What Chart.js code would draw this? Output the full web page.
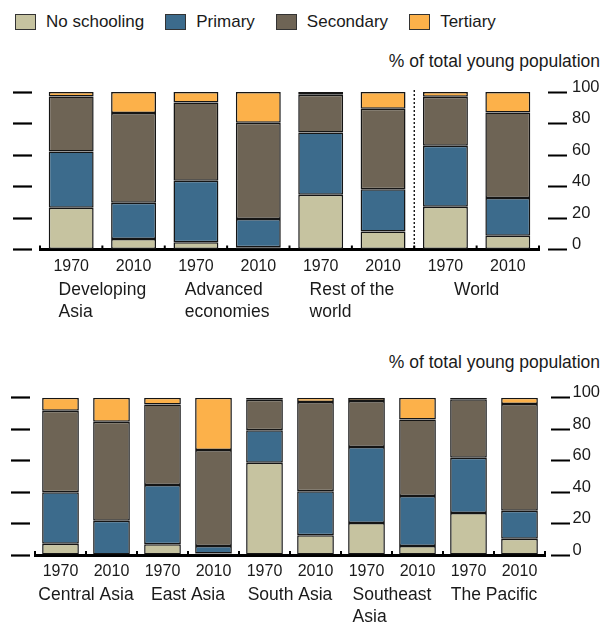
<!DOCTYPE html>
<html>
<head>
<meta charset="utf-8">
<script src="https://cdn.jsdelivr.net/npm/chart.js@4.4.1/dist/chart.umd.min.js"></script>
<style>
  body { margin: 0; width: 603px; height: 625px; background: #fff; position: relative; overflow: hidden;
         font-family: "Liberation Sans", Arial, sans-serif; color: #1a1a1a; }
  .legend { position: absolute; left: 15px; top: 12px; display: flex; align-items: center; font-size: 17px; }
  .legend .sw { width: 21px; height: 16px; border: 1.5px solid #333; box-sizing: border-box; margin-right: 10px; }
  .legend .txt { margin-right: 21px; }
  .unit { position: absolute; right: 3px; font-size: 17.5px; line-height: 20px; }
  .box { position: absolute; left: 0; width: 603px; }
</style>
</head>
<body>
<div class="legend" id="legend"></div>
<div class="unit" style="top:51px">% of total young population</div>
<div class="box" style="top:70px;height:260px"><canvas id="topChart"></canvas></div>
<div class="unit" style="top:352px">% of total young population</div>
<div class="box" style="top:372px;height:253px"><canvas id="bottomChart"></canvas></div>
<script>
// series names and colours
const seriesNames = ['No schooling', 'Primary', 'Secondary', 'Tertiary'];
const seriesColors = ['#C6C3A0', '#3C6B8C', '#6E6455', '#FCB14A'];

// upper panel
const topYears = ['1970', '2010', '1970', '2010', '1970', '2010', '1970', '2010'];
const topGroups = [['Developing', 'Asia'], ['Advanced', 'economies'], ['Rest of the', 'world'], ['World']];
const topNoSchool = [26.5, 6.6, 4.6, 1.5, 34.8, 11.5, 27.1, 8.7];
const topPrimary = [35.7, 23.1, 39.1, 17.8, 39.5, 26.7, 38.7, 24.0];
const topSecondary = [35.0, 56.9, 49.7, 61.1, 24.0, 51.2, 31.2, 54.3];
const topTertiary = [2.8, 13.4, 6.6, 19.6, 1.7, 10.6, 3.0, 13.0];

// lower panel
const bottomYears = ['1970', '2010', '1970', '2010', '1970', '2010', '1970', '2010', '1970', '2010'];
const bottomGroups = [['Central Asia'], ['East Asia'], ['South Asia'], ['Southeast', 'Asia'], ['The Pacific']];
const bottomNoSchool = [7.2, 0.3, 6.8, 1.0, 58.7, 12.5, 20.3, 5.7, 26.7, 10.4];
const bottomPrimary = [32.7, 21.5, 37.7, 4.7, 20.6, 28.0, 48.4, 31.8, 35.2, 17.8];
const bottomSecondary = [51.8, 62.9, 51.1, 61.1, 19.4, 56.8, 29.2, 48.7, 37.1, 67.8];
const bottomTertiary = [8.3, 15.3, 4.4, 33.2, 1.3, 2.7, 2.1, 13.8, 1.0, 4.0];

const yTicks = [0, 20, 40, 60, 80, 100];

// html legend
const legendEl = document.getElementById('legend');
seriesNames.forEach((name, i) => {
    legendEl.insertAdjacentHTML('beforeend',
        '<div class="sw" style="background:' + seriesColors[i] + '"></div><span class="txt">' + name + '</span>');
});

// group names under the years, little ticks between bars, optional dotted divider
const groupLabels = {
    id: 'groupLabels',
    afterDraw(chart, args, opts) {
        const ctx = chart.ctx;
        const x = chart.scales.x;
        const step = x.getPixelForValue(1) - x.getPixelForValue(0);
        ctx.save();
        ctx.strokeStyle = '#000';
        ctx.lineWidth = 2;
        for (let i = 0; i <= chart.data.labels.length; i++) {
            const px = x.getPixelForValue(i) - step / 2;
            ctx.beginPath();
            ctx.moveTo(px, x.top);
            ctx.lineTo(px, x.top - 4);
            ctx.stroke();
        }
        if (opts.divider != null) {
            const px = x.getPixelForValue(opts.divider) - step / 2;
            ctx.lineWidth = 1.3;
            ctx.setLineDash([2, 2]);
            ctx.beginPath();
            ctx.moveTo(px, chart.chartArea.top - 2);
            ctx.lineTo(px, x.top);
            ctx.stroke();
            ctx.setLineDash([]);
        }
        ctx.font = '17.5px "Liberation Sans", Arial, sans-serif';
        ctx.fillStyle = '#1a1a1a';
        ctx.textAlign = 'left';
        ctx.textBaseline = 'middle';
        opts.groups.forEach((lines, i) => {
            const cx = (x.getPixelForValue(2 * i) + x.getPixelForValue(2 * i + 1)) / 2;
            const w = Math.max(...lines.map(l => ctx.measureText(l).width));
            lines.forEach((l, j) => ctx.fillText(l, cx - w / 2, x.top + 40.5 + j * 22));
        });
        ctx.restore();
    }
};

function makeChart(id, years, groups, series, cfg) {
    return new Chart(document.getElementById(id), {
        type: 'bar',
        data: {
            labels: years,
            datasets: series.map((vals, i) => ({
                label: seriesNames[i],
                data: vals,
                backgroundColor: seriesColors[i],
                borderColor: '#151515',
                borderWidth: 1.5,
                borderSkipped: false,
                barPercentage: 0.72,
                categoryPercentage: 1
            }))
        },
        options: {
            responsive: true,
            maintainAspectRatio: false,
            animation: false,
            layout: { padding: { left: cfg.padLeft, right: 0, top: cfg.padTop, bottom: cfg.padBottom } },
            plugins: {
                legend: { display: false },
                tooltip: { enabled: false },
                groupLabels: { groups: groups, divider: cfg.divider }
            },
            scales: {
                x: {
                    stacked: true,
                    grid: { display: false, drawTicks: false },
                    border: { color: '#000', width: 3 },
                    ticks: { color: '#1a1a1a', padding: 7, font: { size: 16, family: '"Liberation Sans", Arial' } },
                    afterFit: s => { s.height = 60; }
                },
                y: {
                    stacked: true,
                    position: 'left',
                    min: 0, max: 100,
                    afterBuildTicks: s => { s.ticks = yTicks.map(v => ({ value: v })); },
                    ticks: { display: false },
                    border: { display: false },
                    grid: {
                        drawOnChartArea: false,
                        tickLength: cfg.leftTick + 19,
                        tickWidth: 2.2,
                        tickColor: '#000',
                        tickBorderDash: [19, cfg.leftTick]
                    },
                    afterFit: s => { s.width = cfg.leftTick + 19; }
                },
                y2: {
                    position: 'right',
                    min: 0, max: 100,
                    afterBuildTicks: s => { s.ticks = yTicks.map(v => ({ value: v })); },
                    border: { display: false },
                    ticks: { color: '#1a1a1a', padding: cfg.labelPad, labelOffset: -5,
                             font: { size: 16.5, family: '"Liberation Sans", Arial' } },
                    grid: {
                        drawOnChartArea: false,
                        tickLength: cfg.rightTick + 19,
                        tickWidth: 2.2,
                        tickColor: '#000',
                        tickBorderDash: [0, cfg.rightTick, 19, 0]
                    },
                    afterFit: s => { s.width = cfg.rightWidth; }
                }
            }
        },
        plugins: [groupLabels]
    });
}

makeChart('topChart', topYears, topGroups,
    [topNoSchool, topPrimary, topSecondary, topTertiary],
    { padLeft: 13, padTop: 22, padBottom: 20.5, leftTick: 8, rightTick: 9, labelPad: 5, rightWidth: 64, divider: 6 });

makeChart('bottomChart', bottomYears, bottomGroups,
    [bottomNoSchool, bottomPrimary, bottomSecondary, bottomTertiary],
    { padLeft: 11, padTop: 25.7, padBottom: 10, leftTick: 5, rightTick: 6, labelPad: 2.5, rightWidth: 58, divider: null });
</script>
</body>
</html>
